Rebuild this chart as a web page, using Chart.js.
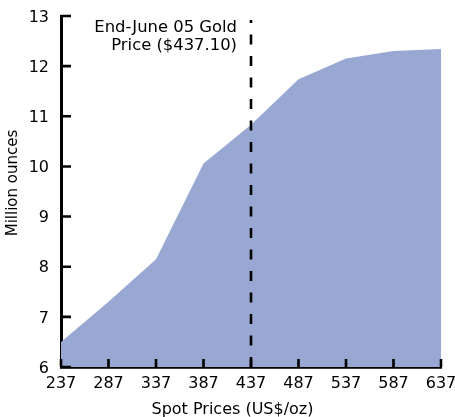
<!DOCTYPE html>
<html><head><meta charset="utf-8">
<script src="https://cdn.jsdelivr.net/npm/chart.js@4/dist/chart.umd.min.js"></script>
<style>html,body{margin:0;padding:0;background:#fff;overflow:hidden}#wrap{width:455px;height:417px}</style>
</head><body><div id="wrap"><canvas id="c" width="455" height="417"></canvas></div>
<script>
// ---- data ----
const spotPrices = ['237','287','337','387','437','487','537','587','637'];
const millionOunces = [6.5, 7.3, 8.15, 10.06, 10.83, 11.74, 12.15, 12.30, 12.34];
const markerPrice = '437';
const markerRange = [6, 12.92];
const markerLabel = ['End-June 05 Gold', 'Price ($437.10)'];
const yMin = 6, yMax = 13, yStep = 1;
const xTitle = 'Spot Prices (US$/oz)';
const yTitle = 'Million ounces';

const FONT = 'DejaVu Sans';
Chart.defaults.font.family = FONT;
Chart.defaults.color = '#000';

const overlay = {
  id: 'overlay',
  afterDatasetsDraw(chart) {
    const {ctx, chartArea, scales: {x, y}} = chart;
    ctx.save();
    ctx.strokeStyle = '#000';
    ctx.lineWidth = 2.6;
    ctx.beginPath();
    y.ticks.forEach((t, i) => {
      const py = y.getPixelForTick(i);
      ctx.moveTo(chartArea.left, py); ctx.lineTo(chartArea.left + 10, py);
    });
    x.ticks.forEach((t, i) => {
      const px = x.getPixelForTick(i);
      ctx.moveTo(px, chartArea.bottom); ctx.lineTo(px, chartArea.bottom - 8);
    });
    ctx.stroke();
    ctx.fillStyle = '#000';
    ctx.textBaseline = 'alphabetic';
    // marker annotation
    ctx.font = '16.4px "' + FONT + '"';
    ctx.textAlign = 'right';
    const mx = x.getPixelForValue(spotPrices.indexOf(markerPrice)) - 14;
    markerLabel.forEach((s, i) => ctx.fillText(s, mx, chartArea.top + 16 + i * 18.3));
    // axis titles
    ctx.textAlign = 'center';
    ctx.font = '16px "' + FONT + '"';
    ctx.fillText(xTitle, chartArea.left + 171.5, chart.height - 3);
    ctx.font = '15px "' + FONT + '"';
    ctx.translate(17, chartArea.top + 167);
    ctx.rotate(-Math.PI / 2);
    ctx.fillText(yTitle, 0, 0);
    ctx.restore();
  }
};

new Chart(document.getElementById('c'), {
  type: 'line',
  data: {
    labels: spotPrices,
    datasets: [
      {
        data: markerRange.map(v => ({x: markerPrice, y: v})),
        borderColor: '#000',
        borderWidth: 2.6,
        borderDash: [10, 11.5],
        pointRadius: 0,
        fill: false,
        order: 0
      },
      {
        data: millionOunces,
        backgroundColor: '#99a8d3',
        borderWidth: 0,
        borderColor: 'rgba(0,0,0,0)',
        pointRadius: 0,
        tension: 0,
        fill: 'start',
        order: 1
      }
    ]
  },
  options: {
    responsive: false,
    animation: false,
    layout: {padding: {top: 16, right: 14, left: 0, bottom: 0}},
    plugins: {legend: {display: false}, tooltip: {enabled: false}},
    scales: {
      x: {
        type: 'category',
        offset: false,
        grid: {display: true, drawOnChartArea: false, drawTicks: false},
        border: {display: true, color: '#000', width: 2.8},
        ticks: {padding: 7, font: {size: 16}, maxRotation: 0, autoSkip: false},
        title: {display: false},
        afterFit(s) { s.height = 50; s.paddingLeft = 0; s.paddingRight = 0; }
      },
      y: {
        min: yMin, max: yMax,
        grid: {display: true, drawOnChartArea: false, drawTicks: false},
        border: {display: true, color: '#000', width: 3},
        ticks: {stepSize: yStep, padding: 12, labelOffset: 1.5, font: {size: 16}},
        title: {display: false},
        afterFit(s) { s.width = 61; s.paddingTop = 0; s.paddingBottom = 0; }
      }
    }
  },
  plugins: [overlay]
});
</script>
</body></html>
